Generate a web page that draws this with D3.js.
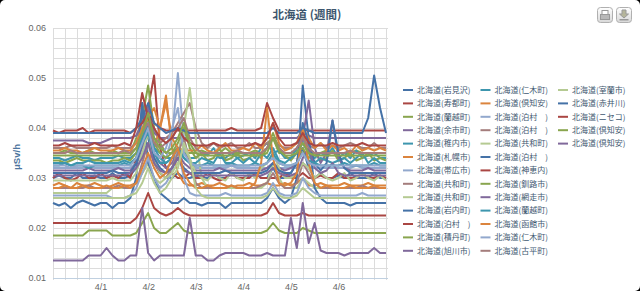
<!DOCTYPE html>
<html>
  <head>
    <meta charset="utf-8" />
    <style>
      body { margin: 0; background: #000; }
      svg { display: block; }
    </style>
  </head>
  <body>

<svg id="graph"></svg>

<script src="https://d3js.org/d3.v7.min.js"></script>
<script>
  const WIDTH = 640;
  const HEIGHT = 291;
  const PLOT = { left: 53, right: 388, top: 28, bottom: 278 };

  const TITLE = '北海道 (週間)';
  const Y_TITLE = 'μSv/h';
  // one reading every 3 hours, from 3/31 00:00 (year is not shown)
  const START = Date.UTC(2013, 2, 31);
  const STEP_HOURS = 3;
  const X_TICK_LABELS = ['4/1', '4/2', '4/3', '4/4', '4/5', '4/6'];
  const Y_TICK_LABELS = ['0.01', '0.02', '0.03', '0.04', '0.05', '0.06'];

  const NAMES = [
    '北海道(岩見沢)', '北海道(寿都町)', '北海道(蘭越町)', '北海道(余市町)', '北海道(稚内市)',
    '北海道(札幌市)', '北海道(帯広市)', '北海道(共和町)', '北海道(共和町)', '北海道(岩内町)',
    '北海道(泊村　)', '北海道(積丹町)', '北海道(旭川市)', '北海道(仁木町)', '北海道(倶知安)',
    '北海道(泊村　)', '北海道(泊村　)', '北海道(共和町)', '北海道(泊村　)', '北海道(神恵内)',
    '北海道(釧路市)', '北海道(網走市)', '北海道(蘭越町)', '北海道(函館市)', '北海道(仁木町)',
    '北海道(古平町)', '北海道(室蘭市)', '北海道(赤井川)', '北海道(ニセコ)', '北海道(倶知安)',
    '北海道(倶知安)'
  ];
  const COLORS = ['#4572A7', '#AA4643', '#89A54E', '#80699B', '#3D96AE',
                  '#DB843D', '#92A8CD', '#A47D7C', '#B5CA92'];

  // readings in nSv/h (0.0395 μSv/h -> 39.5)
  const S00 = [30,30.5,30,30,31,30,30,30.5, 30,30,31,30,30,30.5,32,45, 38,33,31,30,30,31,30,30, 30.5,30,30,31,30,30,31,30, 30,30.5,31,30,30,32,30,30, 31,33,36,32,30,31,30,30, 30.5,30,31,30,30,30,31,30, 30];
  const S01 = [30,31,30,29.5,30,31,30,30, 31,30,30.5,30,31,30,34,38, 44,50.5,36,32,31,30,30,31, 30,30,31,30,29.5,30,31,30, 30,30,31,30,30,30,30,31, 30,30,31,30,30,30.5,30,30, 31,30,30,30,31,30,30,30.5, 30];
  const S02 = [35,35,35.5,35,35,35,35.5,35, 35,35,35.5,35,35,35,38,42, 48.5,40,37,35,35,36,35,35, 35,35.5,35,35,35,36,35,35, 35,35,35.5,35,36,38,35,35, 35,35.5,35,35,35,35,35.5,35, 35,35,35,35.5,35,35,35,35, 35];
  const S03 = [37.5,37.5,37.5,37.5,37.5,37.5,37,37, 37,37.5,38,38,38,38,38.5,41, 44,39,38,38,38,38,38,38, 38,38,38,38,38,38,38,38, 38,38,38,38,38,38,38,38, 38,38,39,38.5,38,38,38,38, 38,38,38,38,38,38,38,38, 38];
  const S04 = [34,34,33.5,34,34.5,34,34,33.5, 34,34,34,34.5,34,34,35,37, 40,36,35,34,34,34,35,34, 34,35,34.5,36,34,34,35,34, 34.5,35,34,36,37,35,35.5,34, 34,36,38,35,34,35,34.5,36, 34,35,34,35.5,34,34.5,35,34, 34];
  const S05 = [28.5,29,28.5,28,29,28.5,28.5,29, 28.5,28,28.5,29,28.5,28.5,29,31, 33,36,40,46.5,36,31,29,28.5, 28.5,29,28.5,28.5,29,28.5,28,28.5, 28.5,29,28.5,28.5,29,28.5,28.5,29, 28.5,29,30,28.5,28.5,29,28.5,28.5, 28.5,29,28.5,28.5,28.5,29,28.5,28.5, 28.5];
  const S06 = [32,32,32,32,32,32,32.5,32, 32,32,32,32,32,32,33,35, 37,34,33,34,38,51,38,33, 32,32,32,32,32,32,32.5,32, 32,32,32,32,32,33,32,32, 32,32,33,32,32,32,32,32, 32,32,32,32.5,32,32,32,32, 32];
  const S07 = [36,36,36,36.5,36,36,36,36, 36,36,36.5,36,36,36,37,40, 42,38,37,38,39,41,43,45, 40,37,36,37,36,36.5,37,36, 36,37,36,36,37,38,36.5,36, 36,37,38,36.5,36,37,36,36.5, 36,36.5,37,36.5,36,36,37,36, 36];
  const S08 = [27,27,27,27,27,27,27,27, 27,27,28,28,28,28,29,31, 33,30,29,30,32,35,40,48, 38,30,28,28,28,28,28,28, 28,28,28,28,29,33,30,28, 28,28,30,29,28,28,28,28, 28,28,28,28,28,28,28,28, 28];
  const S09 = [25,24.5,25,24,25,25.5,25,24.5, 25,25,24,25,25,26,30,45, 33,30,27,26,25,25,26,25, 25,24.5,25,25,25,24,25,25, 25,25,25,25,26,28,26,25, 26,30,48.5,38,28,26,25,25, 25,25,24.5,25,25,25,25,25, 25];
  const S10 = [39.5,39,39.5,39.5,39.5,40,39,39.5, 39.5,39.5,39.5,39.5,39.5,39,40,41, 43,41,40,39.5,39.5,39.5,39.5,39.5, 39.5,39.5,39.5,39.5,39.5,39.5,40,39.5, 39.5,39.5,39.5,40,45,42,39.5,39.5, 39.5,39.5,39.5,39.5,39.5,39.5,39.5,39.5, 39.5,39.5,39.5,39.5,39.5,39.5,39.5,39.5, 39.5];
  const S11 = [33.5,33.5,33,33.5,34,33.5,33.5,33.5, 33.5,33,33.5,33.5,34,33.5,35,39, 42,37,35,34,35,37,40,36, 34,35,33.5,34,36,33.5,34,35, 33.5,34,35,34,36,39,36,34.5, 33.5,35,36,34,35,33.5,34,35.5, 33.5,34,35,33.5,34,35,33.5,34, 33.5];
  const S12 = [31.5,31.5,31.5,31.5,31.5,31.5,32,31.5, 31.5,31.5,31.5,32,31.5,31.5,33,36, 39,35,33,32,33,35,33,32, 31.5,31.5,31.5,31.5,32,31.5,31.5,31.5, 31.5,31.5,31.5,31.5,32,33,32,31.5, 32,33,38,45.5,36,33,35,41.5, 34,32,31.5,31.5,31.5,32,31.5,31.5, 31.5];
  const S13 = [33,33,33,32.5,33,33,33.5,33, 33,33,33,33,33.5,33,34,38, 41,36,34,33,34,36,34,33, 33,34,33.5,33,35,33,33,34, 33,34,33,35,34,36,33.5,33, 34,35,37,35,33,34,33.5,33, 33.5,34,33,34,35,33,34,33, 33];
  const S14 = [35.5,35.5,36,35.5,35.5,35,35.5,36, 35.5,35.5,35.5,36,35.5,35.5,37,40, 42,44,40,45,38,36,35.5,35.5, 35.5,36.5,35.5,35,36,37,35.5,35.5, 36,35.5,37,36,38,41,37,35.5, 36,37,40,38,36,37,35.5,36.5, 35.5,36,35,36.5,35.5,36,35.5,36, 35.5];
  const S15 = [26.5,26.5,26.5,26.5,26.5,26.5,26.5,26.5, 26.5,26.5,26,26,26,26.5,28,31, 34,30,28,29,31,36,30,27, 26.5,26.5,26.5,26.5,26.5,27,26.5,26.5, 26.5,26.5,26.5,26.5,27,29,27,26.5, 26.5,27,30,28,27,26.5,26.5,26.5, 26.5,26.5,26.5,26.5,27,26.5,26.5,26.5, 26.5];
  const S16 = [28,28,28,28,28,28,28.5,28, 28,28,28,28.5,28,28,29,33, 37,33,31,30,32,35,38,33, 29,28,28,28,28,28,28.5,28, 28,28,28,28.5,29,31,29,28, 28,29,33,31,29,28,28,28, 28,28,28,28,28.5,28,28,28, 28];
  const S17 = [29.5,29.5,29.5,29.5,29.5,29.5,29.5,29.5, 29.5,29.5,30,29.5,29.5,29.5,31,35, 39,34,31,30,31,33,36,34, 31,30,29.5,31,30,29.5,31,30, 29.5,31,30,32,33,35,32,30, 30,31,33,32,30,31,30,29.5, 30,31,29.5,30,31,30,29.5,30.5, 29.5];
  const S18 = [31,31,31,31,31,31,31,31, 31,31,31.5,31,31,31,33,37, 40,34,32,31,32,34,32,31, 31,31,31,31,31,31.5,31,31, 31,31,31,31,31.5,33,31.5,31, 31,33,41,37,33,31.5,33,41.5, 35,32,31,31,31,31,31,31, 31];
  const S19 = [21,21,21,21,21,21,21,21, 21,21,21,21,21,21,22,24, 27,24,23,22.5,23,24,23,22.5, 22.5,22.5,22.5,22.5,22.5,22.5,22.5,22.5, 22.5,22.5,22.5,22.5,23,25,23,22.5, 22.5,22.5,23,22.5,22.5,22.5,22.5,22.5, 22.5,22.5,22.5,22.5,22.5,22.5,22.5,22.5, 22.5];
  const S20 = [18.5,18.5,18.5,18.5,18.5,18.5,19.5,19.5, 19.5,19.5,18.5,18.5,18.5,18.5,19,21, 23,20,19,19,20,21,19.5,19, 19,19,19,19,19,19,19,19, 19,19,19,19,19.5,21,19.5,19, 19,19,20,19.5,19,19,19,19, 19,19,19,19,19,19,19,19, 19];
  const S21 = [30.5,30.5,30.5,30.5,30.5,30.5,30.5,30.5, 30.5,30.5,30.5,30.5,30.5,31,32,34, 37,33,31.5,31,32,34,31.5,31, 30.5,30.5,30.5,30.5,30.5,30.5,30.5,30.5, 30.5,30.5,30.5,30.5,31,32,31,30.5, 30.5,31,34,36,32,31,31.5,33, 31,30.5,30.5,30.5,30.5,30.5,30.5,30.5, 30.5];
  const S22 = [32.5,32.5,33,32.5,32.5,32.5,32,32.5, 32.5,32.5,32.5,32.5,33,32.5,34,37, 39,35,33,33,34,36,34,33, 32.5,32.5,33,32.5,32.5,32.5,33,32.5, 32.5,32.5,33,32.5,33,35,33,32.5, 32.5,33,35,33.5,33,32.5,32.5,32.5, 32.5,33,32.5,32.5,32.5,32.5,33,32.5, 32.5];
  const S23 = [28,28,28.5,28,28,28.5,28,28, 28,28.5,28,28,28.5,28,29,32, 35,32,30,31,34,36,31,29, 28,28,28.5,28,28,28,28.5,28, 28,28,29,33,44,34,29,28.5, 29,31,40,33,29,28,28.5,28, 28,28,28.5,28,28,28,28.5,28, 28];
  const S24 = [32.5,32.5,32.5,32,32.5,32.5,32.5,32.5, 32.5,32.5,32.5,32.5,32.5,32.5,34,37, 40,35,34,36,40,44,35,33, 32.5,32.5,32.5,32.5,32.5,32.5,32.5,32.5, 32.5,32.5,32.5,32.5,33,34,33,32.5, 32.5,33,35,33,32.5,32.5,32.5,32.5, 32.5,32.5,32.5,32.5,32.5,32.5,32.5,32.5, 32.5];
  const S25 = [35,35,35,35.5,35,35,35,35, 35,35,35,35,35.5,35,36,39, 41,37,36,37,38,40,42,38, 36,35,35,35,35,35,35,35.5, 35,35,35,35,36,38,36,35, 35,36,38,36,35,35,35,35, 35,35,35.5,35,35,35,35,35, 35];
  const S26 = [26,26,26,26,26,26,26,26, 26,26,26,26,26,26.5,27,29, 32,29,27,28,30,32,37,34, 28,26.5,26,26,26,26,26,26, 26,26,26,26,26.5,28,26.5,26, 26,26.5,28,27,26,26,26,26, 26,26,26,26,26,26,26,26, 26];
  const S27 = [39,39,39,39,39,39,39,39, 39,39,39,39,39,39,40,42, 45,41,40,39,39.5,40,39.5,39, 39,39,39,39,39,39,39,39, 39,39,39,39,39,40,39,39, 39,39,40,39.5,39,39,39,39, 39,39,39,39,39,42,50.5,44, 39];
  const S28 = [36.5,36.5,37,36.5,36.5,36.5,36.5,37, 36.5,36.5,36.5,36.5,37,36.5,40,47, 42,40,38,37,38,40,38,37, 36.5,36.5,36.5,37,36.5,36.5,36.5,36.5, 36.5,36.5,37,36.5,38,41,38,36.5, 36.5,37,39,37,36.5,36.5,36.5,37, 36.5,36.5,36.5,36.5,37,36.5,36.5,36.5, 36.5];
  const S29 = [34.5,34.5,34.5,34.5,34.5,34.5,34.5,34.5, 34.5,34.5,34.5,34.5,34.5,34.5,36,39, 43,38,36,35,36,38,41,37, 35,34.5,34.5,34.5,34.5,34.5,34.5,34.5, 34.5,34.5,34.5,34.5,35,38,35.5,34.5, 34.5,35,37,35,34.5,34.5,34.5,34.5, 34.5,34.5,34.5,34.5,34.5,34.5,34.5,34.5, 34.5];
  const S30 = [13.5,13.5,13.5,13.5,13.5,13.5,14.5,14.5, 14.5,16,14.5,13.5,13.5,14.5,14.5,24, 15,13.5,14.5,14.5,14.5,14.5,14.5,22, 14.5,14.5,13.5,13.5,14.5,15,15,15, 15,14.5,14.5,14.5,15,14.5,14.5,14.5, 22,16,25,17,21,15.5,15,15, 15,14.5,15,15,15,15,16,15, 15];

  const SERIES = [S00, S01, S02, S03, S04, S05, S06, S07, S08, S09, S10, S11, S12, S13, S14, S15,
                  S16, S17, S18, S19, S20, S21, S22, S23, S24, S25, S26, S27, S28, S29, S30];

  const HOUR = 3600 * 1000;
  const svg = d3.select('#graph').attr('width', WIDTH).attr('height', HEIGHT);

  svg.append('rect')
    .attr('width', WIDTH).attr('height', HEIGHT)
    .attr('rx', 5)
    .attr('fill', '#fff');

  const x = d3.scaleUtc()
    .domain([START, START + 169 * HOUR])
    .range([PLOT.left, PLOT.right]);
  const y = d3.scaleLinear()
    .domain([10, 60])
    .range([PLOT.bottom, PLOT.top]);

  // grid: every 6 hours / every 0.002
  const vGrid = d3.range(START, START + 169 * HOUR, 6 * HOUR);
  svg.append('g').selectAll('line')
    .data(vGrid).enter().append('line')
    .attr('x1', d => Math.round(x(d)) + 0.5).attr('x2', d => Math.round(x(d)) + 0.5)
    .attr('y1', PLOT.top).attr('y2', PLOT.bottom + 2)
    .attr('stroke', '#dcdcdc');
  svg.append('g').selectAll('line')
    .data(d3.range(10, 61, 2)).enter().append('line')
    .attr('x1', PLOT.left).attr('x2', PLOT.right)
    .attr('y1', d => Math.round(y(d)) + 0.5).attr('y2', d => Math.round(y(d)) + 0.5)
    .attr('stroke', '#dcdcdc');

  svg.append('line')
    .attr('x1', PLOT.left).attr('x2', PLOT.right)
    .attr('y1', PLOT.bottom + 0.5).attr('y2', PLOT.bottom + 0.5)
    .attr('stroke', '#C0D0E0');

  // axes labels
  const yAxis = d3.axisLeft(y)
    .tickValues([10, 20, 30, 40, 50, 60])
    .tickFormat((d, i) => Y_TICK_LABELS[i])
    .tickSize(0).tickPadding(7);
  const gy = svg.append('g').attr('transform', `translate(${PLOT.left},0)`).call(yAxis);
  gy.select('.domain').remove();
  gy.selectAll('text')
    .attr('font-family', 'Liberation Sans, Arial, sans-serif')
    .attr('font-size', 9).attr('fill', '#666');

  const xAxis = d3.axisBottom(x)
    .tickValues(X_TICK_LABELS.map((d, i) => START + (i + 1) * 24 * HOUR))
    .tickFormat((d, i) => X_TICK_LABELS[i])
    .tickSize(0).tickPadding(6);
  const gx = svg.append('g').attr('transform', `translate(0,${PLOT.bottom})`).call(xAxis);
  gx.select('.domain').remove();
  gx.selectAll('text')
    .attr('font-family', 'Liberation Sans, Arial, sans-serif')
    .attr('font-size', 9).attr('fill', '#666');

  svg.append('text')
    .attr('transform', 'translate(20,157) rotate(-90)')
    .attr('text-anchor', 'middle')
    .attr('font-family', 'Liberation Sans, Arial, sans-serif')
    .attr('font-size', 9.5).attr('font-weight', 'bold')
    .attr('fill', '#4d759e')
    .text(Y_TITLE);

  svg.append('text')
    .attr('x', 307).attr('y', 19)
    .attr('text-anchor', 'middle')
    .attr('font-family', 'Noto Sans CJK JP, sans-serif')
    .attr('font-size', 11.5).attr('font-weight', 'bold')
    .attr('fill', '#3E576F')
    .text(TITLE);

  // series
  const line = d3.line()
    .x((d, i) => x(START + i * STEP_HOURS * HOUR))
    .y(d => y(d));
  svg.append('g')
    .selectAll('path')
    .data(SERIES).enter().append('path')
    .attr('d', line)
    .attr('fill', 'none')
    .attr('stroke', (d, i) => COLORS[i % COLORS.length])
    .attr('stroke-width', 2)
    .attr('stroke-linejoin', 'round');

  // legend, column by column, 13 rows
  const ROWS = 13;
  const legend = svg.append('g').selectAll('g')
    .data(NAMES).enter().append('g')
    .attr('transform', (d, i) => `translate(${403 + Math.floor(i / ROWS) * 77.5},${90 + (i % ROWS) * 13.4})`);
  legend.append('line')
    .attr('x1', 0).attr('x2', 10)
    .attr('stroke', (d, i) => COLORS[i % COLORS.length])
    .attr('stroke-width', 2);
  legend.append('text')
    .attr('x', 14).attr('dy', '0.35em')
    .attr('font-family', 'Noto Sans CJK JP, sans-serif')
    .attr('font-size', 8).attr('fill', '#3E576F')
    .text(d => d);

  // export buttons
  const grad = svg.append('defs').append('linearGradient')
    .attr('id', 'btn').attr('x1', 0).attr('y1', 0).attr('x2', 0).attr('y2', 1);
  grad.append('stop').attr('offset', 0).attr('stop-color', '#fff');
  grad.append('stop').attr('offset', 1).attr('stop-color', '#d8d8d8');
  [597, 616].forEach((bx, k) => {
    const b = svg.append('g').attr('transform', `translate(${bx},7)`);
    b.append('rect').attr('x', 0.5).attr('y', 0.5).attr('width', 15).attr('height', 15)
      .attr('rx', 3).attr('fill', 'url(#btn)').attr('stroke', '#b0b0b0');
    if (k === 0) {
      b.append('rect').attr('x', 5).attr('y', 3.5).attr('width', 6).attr('height', 4).attr('fill', '#fff').attr('stroke', '#999');
      b.append('rect').attr('x', 3.5).attr('y', 7.5).attr('width', 9).attr('height', 5).attr('fill', '#b8b8b8').attr('stroke', '#999');
    } else {
      b.append('path').attr('d', 'M6,3 H10 V7 H12.5 L8,11 L3.5,7 H6 Z').attr('fill', '#b5b59a').attr('stroke', '#999');
      b.append('rect').attr('x', 3.5).attr('y', 12).attr('width', 9).attr('height', 1.5).attr('fill', '#999');
    }
  });
</script>
  </body>
</html>
